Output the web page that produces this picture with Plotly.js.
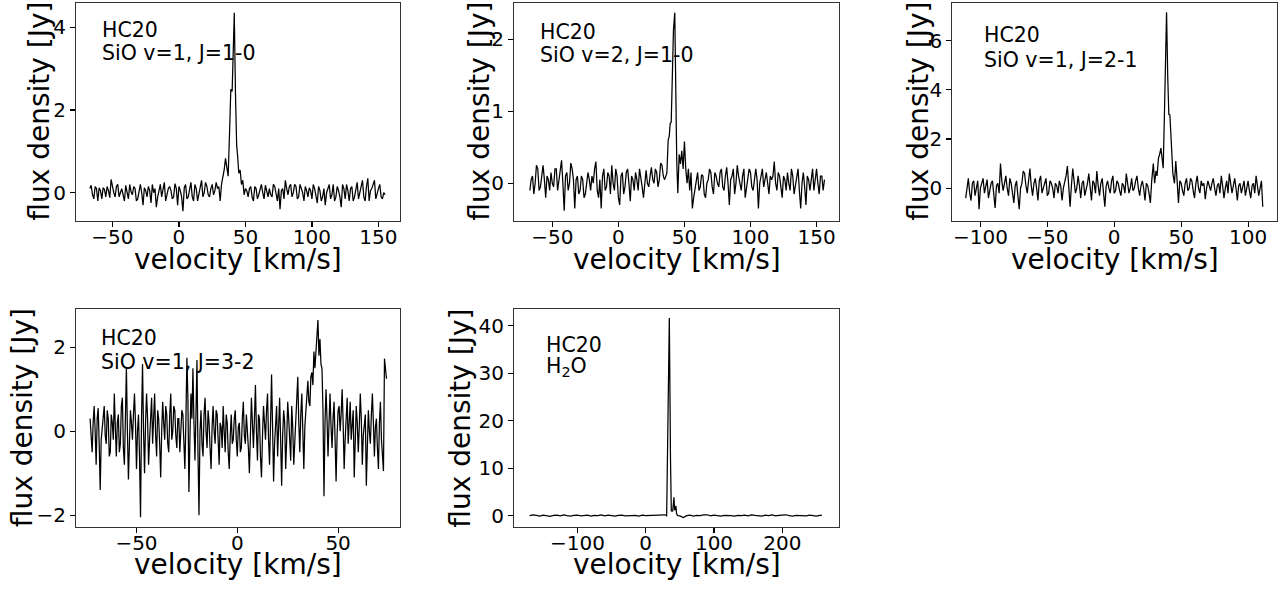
<!DOCTYPE html>
<html><head><meta charset="utf-8">
<script src="https://cdn.plot.ly/plotly-3.0.1.min.js"></script>
<style>html,body{margin:0;padding:0;background:#fff}#chart{width:1286px;height:590px}</style>
</head><body><div id="chart"></div>
<script>
// ---- Panel 1: SiO v=1, J=1-0 ----
const p1Velocity = [-67,-66,-65,-64,-63,-62,-61,-60,-59,-58,-57,-56,-55,-54,-53,-52,-51,-50,-49,-48,-47,-46,-45,-44,-43,-42,-41,-40,-39,-38,-37,-36,-35,-34,-33,-32,-31,-30,-29,-28,-27,-26,-25,-24,-23,-22,-21,-20,-19,-18,-17,-16,-15,-14,-13,-12,-11,-10,-9,-8,-7,-6,-5,-4,-3,-2,-1,0,1,2,3,4,5,6,7,8,9,10,11,12,13,14,15,16,17,18,19,20,21,22,23,24,25,26,27,28,29,
  30,31,32,33,34,35,36,37,38,39,40,41,41.6,42.5,43.4,44.2,45,46,47,48,49,50,
  51,52,53,54,55,56,57,58,59,60,61,62,63,64,65,66,67,68,69,70,71,72,73,74,75,76,77,78,79,80,81,82,83,84,85,86,87,88,89,90,91,92,93,94,95,96,97,98,99,100,101,102,103,104,105,106,107,108,109,110,111,112,113,114,115,116,117,118,119,120,121,122,123,124,125,126,127,128,129,130,131,132,133,134,135,136,137,138,139,140,141,142,143,144,145,146,147,148,149,150,151,152,153,154,155];
const p1Flux = [0.1,0.18,-0.05,-0.15,0.15,0.1,-0.2,0.12,0.05,-0.15,0.12,0.08,-0.1,0.15,0.05,-0.12,0.32,0.1,0.0,-0.1,0.15,0.2,-0.1,0.0,0.1,-0.05,-0.2,0.18,0.05,-0.15,0.2,0.02,-0.05,0.15,0.1,-0.2,-0.15,0.05,0.2,0.0,-0.3,0.12,0.05,-0.1,0.15,0.05,-0.25,0.2,0.0,0.1,-0.35,-0.1,0.1,0.2,-0.1,0.05,0.25,-0.2,-0.05,0.1,0.15,0.05,-0.15,-0.1,0.22,0.1,-0.3,0.15,0.05,-0.1,-0.45,0.12,0.2,-0.15,-0.1,0.05,0.25,-0.1,-0.2,0.2,0.1,-0.2,-0.05,0.15,0.3,-0.1,0.0,0.25,0.15,-0.05,-0.1,0.1,0.2,-0.05,0.05,0.25,0.1,
  0.15,-0.2,0.2,0.35,0.55,0.83,0.55,0.4,1.4,2.5,2.45,3.4,4.35,2.4,1.15,0.85,0.47,0.55,0.2,0.3,-0.05,0.1,
  0.05,-0.1,0.1,0.15,-0.1,-0.2,0.15,0.1,-0.15,-0.05,0.05,0.2,0.0,-0.15,0.18,0.05,-0.1,0.1,-0.05,-0.1,0.2,0.15,0.0,-0.2,0.1,-0.4,0.05,0.1,-0.15,0.3,0.1,-0.05,0.15,0.2,-0.1,0.0,0.2,0.15,-0.15,-0.1,0.2,0.1,0.0,-0.2,0.15,0.05,-0.1,0.12,0.05,-0.15,0.2,0.1,-0.05,-0.25,0.15,0.05,-0.2,-0.1,0.1,-0.3,0.0,0.1,0.2,-0.15,-0.05,0.2,-0.2,-0.1,0.15,0.05,-0.1,-0.35,0.2,0.1,-0.15,0.2,0.05,-0.2,0.1,0.15,-0.2,-0.1,0.05,0.25,-0.15,0.0,0.2,0.3,-0.1,-0.2,0.15,0.35,-0.2,0.05,0.1,0.2,0.3,-0.15,0.0,0.1,0.2,-0.1,-0.15,0.0,-0.05];

// ---- Panel 2: SiO v=2, J=1-0 ----
const p2Velocity = [-67,-66,-65,-64,-63,-62,-61,-60,-59,-58,-57,-56,-55,-54,-53,-52,-51,-50,-49,-48,-47,-46,-45,-44,-43,-42,-41,-40,-39,-38,-37,-36,-35,-34,-33,-32,-31,-30,-29,-28,-27,-26,-25,-24,-23,-22,-21,-20,-19,-18,-17,-16,-15,-14,-13,-12,-11,-10,-9,-8,-7,-6,-5,-4,-3,-2,-1,0,1,2,3,4,5,6,7,8,9,10,11,12,13,14,15,16,17,18,19,20,21,22,23,24,25,26,27,28,29,30,31,32,33,34,35,
  36.7,37.7,38.5,39.2,40,41,41.7,42.7,43.5,44.2,45,46,47,48,49,50,51,
  52,53,54,55,56,57,58,59,60,61,62,63,64,65,66,67,68,69,70,71,72,73,74,75,76,77,78,79,80,81,82,83,84,85,86,87,88,89,90,91,92,93,94,95,96,97,98,99,100,101,102,103,104,105,106,107,108,109,110,111,112,113,114,115,116,117,118,119,120,121,122,123,124,125,126,127,128,129,130,131,132,133,134,135,136,137,138,139,140,141,142,143,144,145,146,147,148,149,150,151,152,153,154,155,156];
const p2Flux = [-0.1,0.05,0.1,-0.15,0.0,0.25,0.2,-0.1,-0.05,0.1,0.25,0.05,-0.2,0.1,0.05,-0.1,0.15,0.0,-0.05,0.2,0.2,-0.1,0.05,0.15,0.32,0.0,-0.38,0.1,0.15,-0.1,0.0,0.28,0.2,0.05,-0.35,0.05,0.1,-0.15,-0.1,0.1,0.05,-0.2,-0.15,0.0,0.15,0.05,-0.1,0.1,0.0,0.2,0.3,-0.1,-0.2,0.05,-0.35,0.1,0.2,-0.1,-0.05,0.15,0.1,-0.15,0.25,0.0,-0.1,0.2,0.1,-0.2,-0.3,0.1,0.15,-0.15,-0.05,0.15,0.2,0.0,-0.25,0.1,0.05,-0.1,0.15,0.05,-0.1,0.2,0.1,-0.05,-0.2,0.05,0.18,0.0,-0.05,0.1,0.22,0.05,0.0,0.2,0.15,-0.05,0.05,0.28,0.25,0.1,0.05,
  0.14,0.6,0.65,0.83,0.85,1.5,2.13,2.37,1.0,0.3,-0.14,0.4,0.27,0.45,0.2,0.58,0.2,
  0.0,0.2,-0.1,0.15,-0.35,-0.2,-0.1,0.05,0.15,-0.1,-0.05,0.12,0.1,-0.15,-0.2,0.0,0.05,0.2,0.15,-0.05,-0.15,0.15,0.1,0.0,-0.05,0.15,0.2,-0.05,-0.1,0.1,0.22,0.0,-0.3,0.05,0.1,0.2,-0.15,0.0,0.25,0.1,0.0,-0.1,0.1,0.2,-0.2,-0.05,0.05,0.2,0.15,-0.05,-0.1,0.05,0.2,0.05,-0.35,0.0,0.1,0.2,-0.05,0.05,0.15,0.0,-0.15,0.1,0.05,0.1,0.3,0.0,-0.1,0.15,0.1,-0.05,-0.2,0.1,0.05,-0.1,0.15,0.0,-0.1,0.2,0.1,-0.15,-0.05,0.1,0.2,-0.1,-0.35,0.0,0.15,-0.05,-0.3,0.1,0.05,-0.1,0.1,0.2,-0.1,0.05,0.2,0.0,-0.15,0.1,0.1,-0.1,0.05];

// ---- Panel 3: SiO v=1, J=2-1 ----
const p3Velocity = [-111,-110,-109,-108,-107,-106,-105,-104,-103,-102,-101,-100,-99,-98,-97,-96,-95,-94,-93,-92,-91,-90,-89,-88,-87,-86,-85,-84,-83,-82,-81,-80,-79,-78,-77,-76,-75,-74,-73,-72,-71,-70,-69,-68,-67,-66,-65,-64,-63,-62,-61,-60,-59,-58,-57,-56,-55,-54,-53,-52,-51,-50,-49,-48,-47,-46,-45,-44,-43,-42,-41,-40,-39,-38,-37,-36,-35,-34,-33,-32,-31,-30,-29,-28,-27,-26,-25,-24,-23,-22,-21,-20,-19,-18,-17,-16,-15,-14,-13,-12,-11,-10,-9,-8,-7,-6,-5,-4,-3,-2,-1,0,1,2,3,4,5,6,7,8,9,10,11,12,13,14,15,16,17,18,19,20,21,22,23,24,25,26,27,
  28,29.2,30.2,31.2,32,33,34,34.9,35.8,36.6,37.5,38.3,39.1,40,40.8,41.6,42.9,43.8,45,46,47,48,
  49,50,51,52,53,54,55,56,57,58,59,60,61,62,63,64,65,66,67,68,69,70,71,72,73,74,75,76,77,78,79,80,81,82,83,84,85,86,87,88,89,90,91,92,93,94,95,96,97,98,99,100,101,102,103,104,105,106,107,108,109,110,111];
const p3Flux = [-0.4,0.1,0.4,-0.2,-0.5,0.2,0.3,-0.3,0.1,0.3,-0.85,0.0,0.2,0.4,-0.2,0.1,0.35,-0.4,-0.1,0.2,0.3,-0.3,-0.8,0.1,0.2,-0.2,1.0,0.3,-0.1,0.2,0.5,0.0,-0.3,0.4,0.2,-0.2,-0.6,0.1,0.3,-0.3,-0.85,0.0,0.2,0.7,0.6,0.1,-0.2,0.3,0.8,0.1,-0.3,0.2,0.4,0.0,-0.5,0.3,0.5,-0.2,0.0,0.3,0.4,-0.3,-0.2,0.3,0.2,0.0,-0.4,0.2,0.1,-0.2,0.3,0.1,-0.5,0.0,0.2,0.5,0.9,0.2,-0.75,0.1,0.8,0.3,-0.2,0.0,0.5,0.1,-0.4,0.2,0.3,-0.3,-0.1,0.2,0.6,0.0,-0.5,0.3,0.2,-0.2,0.7,0.1,-0.3,0.2,0.4,-0.2,-0.75,0.1,0.3,0.0,-0.2,0.3,0.5,-0.2,-0.1,0.3,0.2,-0.1,-0.3,0.2,0.1,-0.2,0.6,0.2,-0.2,0.0,0.4,-0.1,0.0,0.3,0.5,0.0,-0.3,0.1,0.3,0.0,-0.5,0.2,0.1,-0.2,-0.6,
  0.3,1.0,0.2,0.7,0.5,1.2,1.4,1.63,1.2,0.81,3.0,6.0,7.15,4.5,3.0,2.98,1.18,0.6,0.2,1.1,0.3,-0.6,
  0.3,0.2,-0.1,-0.3,0.2,0.4,-0.1,0.0,0.4,0.3,-0.1,-0.4,0.2,0.5,0.0,-0.2,0.3,0.1,0.2,-0.45,0.0,0.3,0.1,-0.1,0.2,0.4,0.0,-0.3,0.1,0.2,-0.2,0.5,0.1,-0.4,0.0,0.3,-0.2,0.6,0.2,-0.2,0.1,0.4,0.0,-0.5,0.1,0.2,-0.2,0.0,0.3,-0.3,0.1,0.3,-0.1,-0.4,0.1,0.2,-0.2,0.5,0.1,-0.3,0.0,0.3,-0.75];

// ---- Panel 4: SiO v=1, J=3-2 ----
const p4Velocity = [-73,-72.5,-72,-71.5,-71,-70.5,-70,-69.5,-69,-68.5,-68,-67.5,-67,-66.5,-66,-65.5,-65,-64.5,-64,-63.5,
  -63,-62.5,-62,-61.5,-61,-60.5,-60,-59.5,-59,-58.5,-58,-57.5,-57,-56.5,-56,-55.5,-55,-54.5,-54,-53.5,
  -53,-52.5,-52,-51.5,-51,-50.5,-50,-49.5,-49,-48.5,-48,-47.5,-47,-46.5,-46,-45.5,-45,-44.5,-44,-43.5,
  -43,-42.5,-42,-41.5,-41,-40.5,-40,-39.5,-39,-38.5,-38,-37.5,-37,-36.5,-36,-35.5,-35,-34.5,-34,-33.5,
  -33,-32.5,-32,-31.5,-31,-30.5,-30,-29.5,-29,-28.5,-28,-27.5,-27,-26.5,-26,-25.5,-25,-24.5,-24,-23.5,
  -23,-22.5,-22,-21.5,-21,-20.5,-20,-19.5,-19,-18.5,-18,-17.5,-17,-16.5,-16,-15.5,-15,-14.5,-14,-13.5,
  -13,-12.5,-12,-11.5,-11,-10.5,-10,-9.5,-9,-8.5,-8,-7.5,-7,-6.5,-6,-5.5,-5,-4.5,-4,-3.5,
  -3,-2.5,-2,-1.5,-1,-0.5,0,0.5,1,1.5,2,2.5,3,3.5,4,4.5,5,5.5,6,6.5,
  7,7.5,8,8.5,9,9.5,10,10.5,11,11.5,12,12.5,13,13.5,14,14.5,15,15.5,16,16.5,
  17,17.5,18,18.5,19,19.5,20,20.5,21,21.5,22,22.5,23,23.5,24,24.5,25,25.5,26,26.5,
  27,27.5,28,28.5,29,29.5,30,30.5,31,31.5,32,32.5,33,33.5,34,34.5,35,35.5,36,36.5,
  37,37.5,38,38.5,39,39.5,40,40.5,41,41.5,42,42.5,43,43.5,44,44.5,45,45.5,46,46.5,
  47,47.5,48,48.5,49,49.5,50,50.5,51,51.5,52,52.5,53,53.5,54,54.5,55,55.5,56,56.5,
  57,57.5,58,58.5,59,59.5,60,60.5,61,61.5,62,62.5,63,63.5,64,64.5,65,65.5,66,66.5,
  67,67.5,68,68.5,69,69.5,70,70.5,71,71.5,72,72.5,73,73.5,74];
const p4Flux = [0.3,-0.2,-0.5,0.2,0.6,0.0,-0.8,0.3,0.55,-0.3,-1.4,-0.2,0.1,0.4,0.6,-0.1,-0.3,0.5,0.3,-0.6,
  -0.5,0.4,0.2,-0.2,0.9,0.1,-0.6,0.2,0.4,-0.5,-0.3,0.6,0.8,-0.4,-0.8,0.3,1.53,0.0,-1.15,-0.3,
  0.5,0.2,-0.2,0.4,0.9,0.2,-0.9,0.0,0.4,-0.6,-2.05,0.3,1.6,0.0,-1.0,0.2,0.9,0.3,-0.8,-0.2,
  0.5,0.8,-0.3,0.2,0.9,-0.1,-0.6,0.5,0.3,-0.3,-1.1,0.0,0.7,0.2,-0.2,0.6,0.4,-0.3,-0.5,0.4,
  0.9,-0.2,0.0,0.6,0.5,-0.1,-0.4,0.3,0.3,-0.5,-0.1,0.5,0.4,-0.3,-0.9,0.2,1.75,0.8,-1.45,-0.2,
  0.9,0.3,1.5,0.2,-0.7,0.4,1.7,-0.5,-2.0,0.0,0.5,-0.3,-0.6,0.4,0.8,0.0,-0.4,0.5,0.2,-0.4,
  -0.9,0.1,0.6,0.0,-0.3,0.5,0.4,-0.2,-0.8,0.2,0.1,-0.4,0.6,0.0,-0.5,0.4,0.2,-0.5,-0.9,-0.1,
  0.4,-0.3,-0.2,0.3,0.5,-0.2,-0.6,0.1,0.2,-0.5,-0.4,0.3,0.7,-0.1,-0.3,0.4,0.1,-0.4,-1.0,0.0,
  0.8,0.2,-0.4,0.3,1.1,0.0,-0.7,0.4,0.3,-0.6,-1.1,-0.1,0.6,0.2,-0.2,0.5,0.9,-0.2,-0.8,0.2,
  1.35,0.1,-1.2,-0.3,0.4,0.6,-0.6,0.0,0.8,-0.2,-1.3,-0.1,0.5,0.2,-0.9,-0.2,0.7,0.3,-0.3,-0.7,
  0.6,0.1,-0.8,-0.3,0.3,0.7,1.3,0.2,-0.5,0.4,0.9,0.0,-0.9,0.1,0.5,1.0,1.2,0.7,0.6,1.3,
  1.4,1.1,1.9,1.5,2.0,2.3,2.65,1.8,2.2,1.6,1.5,0.5,-1.55,0.2,1.0,0.3,-0.6,0.2,0.9,0.1,
  -0.4,0.3,0.7,-0.2,-1.2,-0.1,0.5,0.6,0.0,0.4,1.0,0.2,-0.9,-0.2,0.4,0.8,-0.3,0.1,0.7,-0.2,
  0.1,0.5,-1.1,-0.4,0.6,0.2,-0.5,0.1,0.9,0.3,-0.8,-0.1,0.2,0.4,-1.3,-0.3,0.5,0.0,-0.3,0.4,
  0.9,0.2,-0.6,0.1,0.3,-0.4,-0.9,0.2,0.7,-0.2,-0.5,-0.95,1.73,1.5,1.25];

// ---- Panel 5: H2O ----
const p5Velocity = [-170,-165,-160,-155,-150,-145,-140,-135,-130,-125,-120,-115,-110,-105,-100,-95,-90,-85,-80,-75,-70,-65,-60,-55,-50,-45,-40,-35,-30,-25,-20,-15,-10,-5,0,5,10,15,20,25,
  28,30.7,32.6,34.6,36.3,37.5,38.5,39.5,40.5,41.4,42.3,43.3,44.2,45.2,47,
  50,55,60,65,70,75,80,85,90,95,100,105,110,115,120,125,130,135,140,145,150,155,160,165,170,175,180,185,190,195,200,205,210,215,220,225,230,235,240,245,250,255,258];
const p5Flux = [0.0,0.15,0.05,-0.1,0.1,0.0,-0.15,0.05,0.1,-0.05,0.15,0.0,-0.1,0.05,0.1,-0.05,0.0,0.1,-0.1,0.05,0.0,0.15,-0.05,0.1,0.0,-0.1,0.05,0.1,-0.05,0.0,0.15,0.05,-0.1,0.1,0.0,0.05,0.1,0.15,0.1,0.2,
  0.2,0.0,18,41.6,12,1.0,1.05,0.9,3.6,3.87,1.2,1.3,2.1,0.4,0.0,
  -0.05,-0.4,0.0,0.1,-0.1,0.05,0.0,0.15,0.2,-0.05,0.1,0.0,-0.1,0.05,0.1,0.0,-0.1,0.05,0.0,0.1,-0.05,0.15,0.05,0.0,-0.1,0.1,0.0,0.15,-0.05,0.05,0.1,0.2,0.0,-0.1,0.05,0.0,0.1,-0.05,0.1,0.0,-0.1,0.05,0.1];

const sourceName = "HC20";
const lineLabels = ["SiO v=1, J=1-0", "SiO v=2, J=1-0", "SiO v=1, J=2-1", "SiO v=1, J=3-2", "H<sub>2</sub>O"];
const xTitle = "velocity [km/s]";
const yTitle = "flux density [Jy]";

const W = 1286, H = 590;
const FONT = "DejaVu Sans, Verdana, sans-serif";
function px2x(a,b){return [a/W, b/W];}
function py2y(top,bot){return [1-bot/H, 1-top/H];}

const panels = [
  {vx:p1Velocity, fy:p1Flux, xd:px2x(76,400), yd:py2y(2.7,220.7), xr:[-77.4,166.2], yr:[-0.677,4.595], xdt:50, ydt:2, ann:[0.074,0.876,0.769], ytx:40, xty:259},
  {vx:p2Velocity, fy:p2Flux, xd:px2x(514,839), yd:py2y(2.7,220.7), xr:[-79,167], yr:[-0.52,2.508], xdt:50, ydt:1, ann:[0.075,0.866,0.760], ytx:480, xty:259},
  {vx:p3Velocity, fy:p3Flux, xd:px2x(952.3,1276.7), yd:py2y(2.7,220.7), xr:[-121,121.4], yr:[-1.32,7.54], xdt:50, ydt:2, ann:[0.0925,0.850,0.737], ytx:919, xty:259},
  {vx:p4Velocity, fy:p4Flux, xd:px2x(76,400), yd:py2y(309,527.3), xr:[-80,80.7], yr:[-2.29,2.914], xdt:50, ydt:2, ann:[0.072,0.867,0.759], ytx:22, xty:564},
  {vx:p5Velocity, fy:p5Flux, xd:px2x(514,839), yd:py2y(309,527.3), xr:[-192.8,283], yr:[-2.44,43.5], xdt:100, ydt:10, ann:[0.092,0.836,0.734], ytx:460.5, xty:564}
];

const data = [];
const layout = {
  width: W, height: H,
  margin: {l:0, r:0, t:0, b:0},
  paper_bgcolor: "#fff", plot_bgcolor: "#fff",
  showlegend: false,
  font: {family: FONT, color: "#000", size: 20},
  annotations: []
};

panels.forEach((p, i) => {
  const n = i + 1;
  const xa = n === 1 ? "x" : "x" + n;
  const ya = n === 1 ? "y" : "y" + n;
  data.push({x: p.vx, y: p.fy, type: "scatter", mode: "lines",
    line: {color: "#000", width: 1.25}, xaxis: xa, yaxis: ya, hoverinfo: "skip"});
  const common = {showgrid:false, zeroline:false, showline:true, mirror:true,
    linecolor:"#333", linewidth:1.1, ticks:"outside", ticklen:5, tickwidth:1.1, tickcolor:"#000",
    tickfont:{family:FONT, size:20, color:"#000"}, automargin:false, fixedrange:true};
  layout["xaxis" + (n===1?"":n)] = Object.assign({}, common, {
    domain: p.xd, range: p.xr, dtick: p.xdt, tick0: 0, anchor: ya, ticklabelstandoff: -7
  });
  layout["yaxis" + (n===1?"":n)] = Object.assign({}, common, {
    domain: p.yd, range: p.yr, dtick: p.ydt, tick0: 0, anchor: xa
  });
  const xr = (n===1?"x":"x"+n) + " domain";
  const yr = (n===1?"y":"y"+n) + " domain";
  // axis titles
  layout.annotations.push({xref: xr, yref: "paper", x: 0.5, y: 1 - p.xty / H, xanchor:"center", yanchor:"middle",
    text: xTitle, showarrow:false, font:{family:FONT, size:28, color:"#000"}});
  layout.annotations.push({xref: "paper", yref: yr, x: p.ytx / W, y: 0.5, xanchor:"center", yanchor:"middle",
    textangle: -90, text: yTitle, showarrow:false, font:{family:FONT, size:28, color:"#000"}});
  // in-panel labels
  layout.annotations.push({xref: xr, yref: yr, x: p.ann[0], y: p.ann[1], xanchor:"left", yanchor:"middle",
    text: sourceName, showarrow:false, font:{family:FONT, size:20.5, color:"#000"}});
  layout.annotations.push({xref: xr, yref: yr, x: p.ann[0], y: p.ann[2], xanchor:"left", yanchor:"middle",
    text: lineLabels[i], showarrow:false, font:{family:FONT, size:20.5, color:"#000"}});
});

Plotly.newPlot("chart", data, layout, {staticPlot: true, displayModeBar: false});
</script>
</body></html>
